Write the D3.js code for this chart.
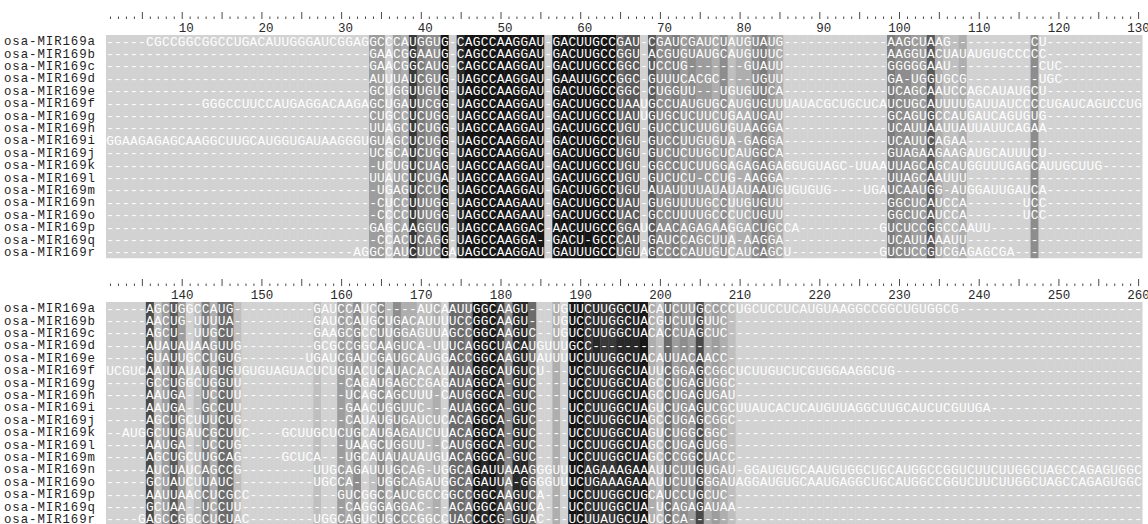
<!DOCTYPE html>
<html>
<head>
<meta charset="utf-8">
<script src="https://cdn.jsdelivr.net/npm/d3@7"></script>
<style>
  body { margin: 0; background: #fff; }
  svg { display: block; }
  text { font-family: "Liberation Mono", "Courier New", monospace; }
</style>
</head>
<body>
<svg id="chart"></svg>
<script>
"use strict";
const names = ["osa-MIR169a", "osa-MIR169b", "osa-MIR169c", "osa-MIR169d", "osa-MIR169e",
  "osa-MIR169f", "osa-MIR169g", "osa-MIR169h", "osa-MIR169i", "osa-MIR169j", "osa-MIR169k",
  "osa-MIR169l", "osa-MIR169m", "osa-MIR169n", "osa-MIR169o", "osa-MIR169p", "osa-MIR169q",
  "osa-MIR169r"];

// alignment columns 1-130, cut in pieces: 1-33 | 34-44 | 45-56 | 57-64 | 65-85 | 86-98 | 99-130
const block1 = [
  ["-----CGCCGGCGGCCUGACAUUGGGAUCGGAG", "GCCCAUGGUG-", "CAGCCAAGGAU-", "GACUUGCC", "GAU-CGAUCGAUCUAUGUAUG", "", "AAGCUAAG----------CU"],
  ["", "GAACGGAAUG-", "CAGCCAAGGAU-", "GACUUGCC", "GGU-ACGUGUAUGCAUGUUUC", "", "AAGGUACUAUAUGUGCCCCC"],
  ["", "GAACGGCAUG-", "CAGCCAAGGAU-", "GACUUGCC", "GGC-UCCUG-------GUAUU", "", "GGGGGAAU-----------CUC"],
  ["", "AUUUAUCGUG-", "UAGCCAAGGAU-", "GAAUUGCC", "GGC-GUUUCACGC----UGUU", "", "GA-UGGUGCG---------UGC"],
  ["", "GCUGGUUGUG-", "UAGCCAAGGAU-", "GACUUGCC", "GGC-CUGGUU---UGUGUUCA", "", "UCAGCAAUCCAGCAUAUGCU"],
  ["GGGCCUUCCAUGAGGACAAGA", "GCUGAUUCGG-", "UAGCCAAGGAU-", "GACUUGCC", "UAAUGCCUAUGUGCAUGUGUU", "UAUACGCUGCUCA", "UCUGCAUUUUGAUUAUCCCCUGAUCAGUCCUG"],
  ["", "CUGCCUCUGG-", "UAGCCAAGGAU-", "GACUUGCC", "UAUUGUGCUCUUCUGAAUGAU", "", "GCAGUGCCAUGAUCAGUGUG"],
  ["", "UUAGCUCUGG-", "UAGCCAAGGAU-", "GACUUGCC", "UGU-GUCCUCUUGUGUAAGGA", "", "UCAUUAAUUAUUAUUCAGAA"],
  ["GGAAGAGAGCAAGGCUUGCAUGGUGAUAAGGGU", "GUAGCUCUGG-", "UAGCCAAGGAU-", "GACUUGCC", "UGU-GUCCUUGUGUA-GAGGA", "", "UCAUUCAGAA"],
  ["", "UCGCAUCUGG-", "UAGCCAAGGAU-", "GACUUGCC", "UGU-GUCUCUUGCUCAUGGCA", "", "GUAGAAGAAGAUGCAUUUCU"],
  ["", "-UCUGUCUAG-", "UAGCCAAGGAU-", "GACUUGCC", "UGU-GGCCUCUUGGAGAGAGA", "GGUGUAGC-UUAA", "UUAGCAGCAUGGUUUGAGCAUUGCUUG"],
  ["", "UUAUCUCUGA-", "UAGCCAAGGAU-", "GACUUGCC", "UGU-GUCUCU-CCUG-AAGGA", "", "UUAGCAAUUU"],
  ["", "-UGAGUCCUG-", "UAGCCAAGGAU-", "GACUUGCC", "UGU-AUAUUUUAUAUAUAAUG", "UGUGUG----UGA", "UCAAUGG-AUGGAUUGAUCA"],
  ["", "-CUCCUUUGG-", "UAGCCAAGAAU-", "GACUUGCC", "UAU-GUGUUUUGCCUUGUGUU", "", "GGCUCAUCCA-------UCC"],
  ["", "-CCCCUUUGG-", "UAGCCAAGAAU-", "GACUUGCC", "UAC-GCCUUUUGCCCUCUGUU", "", "GGCUCAUCCA-------UCC"],
  ["", "GAGCAAGGUG-", "UAGCCAAGGAC-", "AACUUGCC", "GGAUCAACAGAGAAGGACUGC", "CA----------G", "UCUCCGGCCAAUU"],
  ["", "-CCACUCAGG-", "UAGCCAAGGA--", "GACU-GCC", "CAU-GAUCCAGCUUA-AAGGA", "", "UCAUUAAAUU"],
  ["AG", "GCCAUCUUCGA", "UAGCCAAGGAU-", "GAUUUGCC", "UGUAGCCCCAUUGUCAUCAGC", "U-----------G", "UCUCCGUCGAGAGCGA"]
];

// alignment columns 131-260, cut in pieces: 131-176 | 177-188 | 189-198 | 199-260
const block2 = [
  ["-----AGCUGGCCAUG----------GAUCCAUCC----AUCAAUU", "GGCAAGU---UG", "UUCUUGGCUA", "CAUCUUGCCCCUGCUCCUCAUGUAAGGCCGGCUGUGGCG"],
  ["-----AACUG-UUUUA----------GAUCCAUGCUGACAUUUUCC", "GGCAAGU---UG", "UCCUUGGCUA", "CGUCUUGUUC"],
  ["-----AGCU--UUGCU----------GAAGCGCCUUGGAGUUAGCC", "GGCAAGUC--UG", "UCCUUGGCUA", "CACCUAGCUC"],
  ["-----AUAUAUAAGUUG---------GCGCCGGCAAGUCA-UUUCA", "GGCUACAUGUUU", "GCC", ""],
  ["-----GUAUUGCCUGUG--------UGAUCGAUCGAUGCAUGGACC", "GGCAAGUUAUUU", "UCUUUGGCUA", "CAUUACAACC"],
  ["UCGUCAAUUAUAUGUGUGUGUAGUACUCUGUACUCAUACACAUAUA", "GGCAUGUCU---", "UCCUUGGCUA", "UUCGGAGCGGCUCUUGUCUCGUGGAAGGCUG"],
  ["-----GCCUGGCUGGUU-------------CAGAUGAGCCGAGAUA", "GGCA-GUC----", "UCCUUGGCUA", "GCCUGAGUGGC"],
  ["-----AAUGA--UCCUU-------------UCAGCAGCUUU-CAUG", "GGCA-GUC----", "UCCUUGGCUA", "GCCUGAGUGAU"],
  ["-----AAUGA--GCCUU-------------GAACUGGUUC---AUA", "GGCA-GUC----", "UCCUUGGCUA", "GUCUGAGUCGCUUAUCACUCAUGUUAGGCUUGCAUCUCGUUGA"],
  ["-----AGCUGCUUUCUG-------------CAUAUGUGAUCUCACA", "GGCA-GUC----", "UCCUUGGCUA", "GCCUGAGCGGC"],
  ["--AUGGCUUGAUCGCUUC----GCUUGCUCUGCAUGAGAUCUUACA", "GGCA-GUC----", "UCCUUGGCUA", "GUCUGGCGGC"],
  ["-----AAUGA--UCCUG-------------UAAGCUGGUU--CAUG", "GGCA-GUC----", "UCCUUGGCUA", "GCCUGAGUGG"],
  ["-----AGCUGCUUGCAG-----GCUCA---UGCAUAUAUAUGUACA", "GGCA-GUC----", "UCCUUGGCUA", "GCCCGGCUACC"],
  ["-----AUCUAUCAGCCG---------UUGCAGAUUUGCAG-UGGCA", "GAUUAAAGGGUU", "UCAGAAAGAA", "AUUCUUGUGAU-GGAUGUGCAAUGUGGCUGCAUGGCCGGUCUUCUUGGCUAGCCAGAGUGGC"],
  ["-----GCUAUCUUAUC----------UGCCA---UGGCAGAUGGCA", "GAUUA-GGGGUU", "UCUGAAAGAA", "AUUCUUGGGAUAGGAUGUGCAAUGAGGCUGCAUGGCCGGUCUUCUUGGCUAGCCAGAGUGGC"],
  ["-----AAUUAACCUCGCC-----------GUCGGCCAUCGCCGGCC", "GGCAAGUCA---", "UCCUUGGCUG", "CAUCCUGCUC"],
  ["-----GCUAA--UCCUU-------------CAGGGAGGAC---ACA", "GGCAAGUCA---", "UCCUUGGCUA", "-UCAGAGAUAA"],
  ["----GAGCCGGCCUCUAC--------UGGCAGUCUGCCCGGCCUAC", "CCCG-GUAC---", "UCUUAUGCUA", "UCCCA"]
];
const pieces1 = [33, 11, 12, 8, 21, 13, 32];
const pieces2 = [46, 12, 10, 62];

const width = 1148, height = 524;
const left = 106, colW = 7.97, rowH = 12.4;

// first piece sits against its right edge, the rest start at their left edge
function assemble(segs, widths) {
  return segs.map((s, i) => i === 0
      ? s.padStart(widths[i], "-").slice(-widths[i])
      : s.padEnd(widths[i], "-").slice(0, widths[i])).join("");
}

const rows = names.map((n, i) => ({
  name: n,
  seq: [assemble(block1[i], pieces1), assemble(block2[i], pieces2)]
}));

// identity shading: darker when more sequences share the same residue
const shade = d3.scaleLinear().domain([0.33, 0.9])
    .range(["#c0c0c0", "#141414"]).clamp(true);
function colColor(p) { return p < 0.33 ? "#d2d2d2" : shade(p); }

const svg = d3.select("#chart")
    .attr("width", width)
    .attr("height", height);

const blocks = [{start: 1, top: 35}, {start: 131, top: 302}];

blocks.forEach(function(b, bi) {
  const x = d3.scaleLinear()
      .domain([b.start - 0.5, b.start + 129.5])
      .range([left, left + 130 * colW]);
  const y = d3.scaleBand().domain(names).range([b.top, b.top + names.length * rowH]);
  const positions = d3.range(b.start, b.start + 130);
  const g = svg.append("g");

  const cons = positions.map(function(p, j) {
    const res = rows.map(r => r.seq[bi][j]).filter(c => c !== "-");
    const counts = d3.rollup(res, v => v.length, c => c);
    return counts.size ? d3.max(counts.values()) / rows.length : 0;
  });

  g.append("g").selectAll("rect")
      .data(positions)
    .join("rect")
      .attr("x", p => x(p - 0.5))
      .attr("width", colW + 0.4)
      .attr("y", b.top)
      .attr("height", names.length * rowH)
      .attr("fill", (p, j) => colColor(cons[j]));

  // one glyph per cell, centred on its column
  rows.forEach(function(r) {
    g.append("g")
        .attr("fill", "#ffffff")
        .attr("font-size", 12.8)
        .attr("text-anchor", "middle")
      .selectAll("text")
        .data(r.seq[bi].split(""))
      .join("text")
        .attr("x", (c, j) => x(b.start + j))
        .attr("y", y(r.name) + rowH / 2 + 4.3)
        .text(c => c);
  });

  // sequence names
  g.append("g").selectAll("text")
      .data(names)
    .join("text")
      .attr("x", 4)
      .attr("y", d => y(d) + rowH / 2 + 4)
      .attr("font-size", 12.4)
      .attr("textLength", 91)
      .attr("lengthAdjust", "spacing")
      .attr("fill", "#1e1e1e")
      .text(d => d);

  // ruler: dots, bars every 5, numbers every 10
  const rulerBase = b.top - 16;
  g.append("g")
      .attr("transform", `translate(0,${rulerBase})`)
      .attr("color", "#4a4a4a")
      .call(d3.axisTop(x).tickValues(positions.filter(p => p % 5 !== 0))
          .tickSize(2.5).tickFormat(""))
      .call(a => a.select(".domain").remove());
  g.append("g")
      .attr("transform", `translate(0,${rulerBase})`)
      .attr("color", "#4a4a4a")
      .call(d3.axisTop(x).tickValues(positions.filter(p => p % 5 === 0))
          .tickSize(7).tickFormat(""))
      .call(a => a.select(".domain").remove());
  g.append("g")
      .attr("transform", `translate(0,${b.top - 3})`)
      .call(d3.axisTop(x).tickValues(positions.filter(p => p % 10 === 0))
          .tickSize(0).tickPadding(0))
      .call(a => a.select(".domain").remove())
      .call(a => a.selectAll("text")
          .attr("font-family", "Liberation Mono, monospace")
          .attr("font-size", 12.5)
          .attr("fill", "#2a2a2a")
          .attr("dy", 0)
          .attr("dx", d => String(d).length === 2 ? 4 : 0));
});
</script>
</body>
</html>
